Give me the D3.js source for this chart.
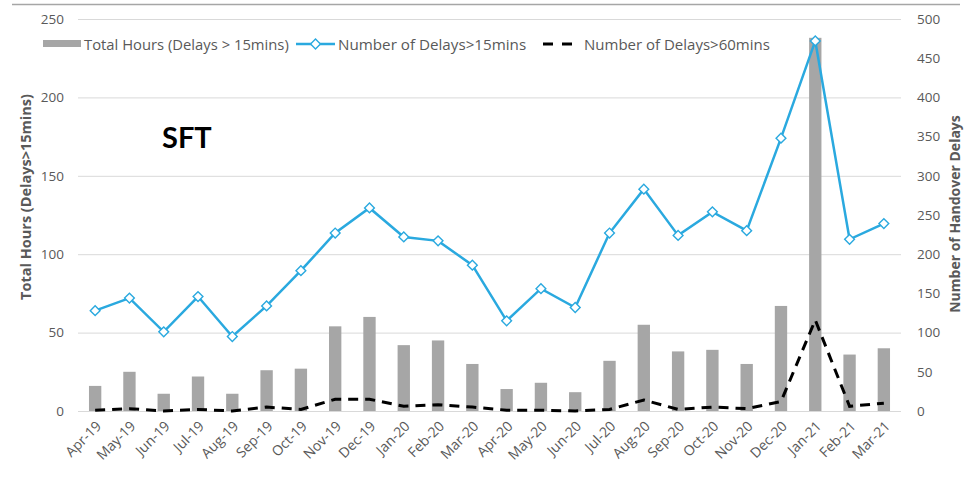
<!DOCTYPE html>
<html><head><meta charset="utf-8">
<script src="https://cdn.jsdelivr.net/npm/d3@7"></script>
<style>body{margin:0;background:#fff}svg{display:block}text{font-family:"Open Sans",sans-serif}</style>
</head><body><svg id="c" width="969" height="485"></svg>
<script>
const months = ["Apr-19","May-19","Jun-19","Jul-19","Aug-19","Sep-19","Oct-19","Nov-19","Dec-19","Jan-20","Feb-20","Mar-20","Apr-20","May-20","Jun-20","Jul-20","Aug-20","Sep-20","Oct-20","Nov-20","Dec-20","Jan-21","Feb-21","Mar-21"];
const totalHours = [16,25,11,22,11,26,27,54,60,42,45,30,14,18,12,32,55,38,39,30,67,238,36,40];
const delays15 = [128,144,101,146,95,134,179,227,259,222,217,186,115,156,132,227,283,224,254,230,348,472,219,239];
const delays60 = [1,3,0,2,0,5,2,15,15,6,8,5,1,1,0,2,14,2,5,3,12,116,6,10];
const leftTicks = [0,50,100,150,200,250];
const rightTicks = [0,50,100,150,200,250,300,350,400,450,500];

const svg = d3.select("#c");
const L = 78, R = 901, T = 19, B = 411;
const FF = "'Open Sans',sans-serif";
const x = d3.scaleBand().domain(months).range([L, R]).paddingInner(0.64).paddingOuter(0.32);
const xc = d => x(d) + x.bandwidth()/2;
const yL = d3.scaleLinear().domain([0,250]).range([B, T]);
const yR = d3.scaleLinear().domain([0,500]).range([B, T]);
const txt = "#595959";

// top border
svg.append("line").attr("x1",12).attr("x2",960).attr("y1",4.5).attr("y2",4.5).attr("stroke","#a6a6a6").attr("stroke-width",1.5);

// gridlines
svg.append("g").selectAll("line").data(leftTicks).join("line")
  .attr("x1",L).attr("x2",R).attr("y1",d=>yL(d)+0.5).attr("y2",d=>yL(d)+0.5)
  .attr("stroke","#d9d9d9").attr("stroke-width",1);

// left axis
const gl = svg.append("g").attr("transform",`translate(${L-14},0)`)
  .call(d3.axisLeft(yL).tickValues(leftTicks).tickSize(0).tickPadding(0));
gl.select(".domain").remove();
gl.selectAll("text").attr("fill",txt).style("font-size","13.5px").style("font-family",FF);

// right axis
const gr = svg.append("g").attr("transform",`translate(${R+16},0)`)
  .call(d3.axisRight(yR).tickValues(rightTicks).tickSize(0).tickPadding(0));
gr.select(".domain").remove();
gr.selectAll("text").attr("fill",txt).style("font-size","13.5px").style("font-family",FF);

// x axis
const gx = svg.append("g").attr("transform",`translate(0,${B})`)
  .call(d3.axisBottom(x).tickSize(0).tickPadding(0));
gx.select(".domain").remove();
gx.selectAll("text").attr("fill",txt).style("font-size","14px").style("font-family",FF)
  .attr("text-anchor","end").attr("dy",null).attr("y",0)
  .attr("transform","translate(7,16) rotate(-45)");

// bars
svg.append("g").selectAll("rect").data(months).join("rect")
  .attr("x",d=>x(d)).attr("width",x.bandwidth())
  .attr("y",(d,i)=>yL(totalHours[i])).attr("height",(d,i)=>B-yL(totalHours[i]))
  .attr("fill","#a6a6a6");

// dashed line
const line60 = d3.line().x((d,i)=>xc(months[i])).y(d=>yR(d));
svg.append("path").datum(delays60).attr("d",line60).attr("fill","none")
  .attr("stroke","#000").attr("stroke-width",3).attr("stroke-dasharray","10,7");

// blue line
const blue = "#2AA9DF";
const line15 = d3.line().x((d,i)=>xc(months[i])).y(d=>yR(d));
svg.append("path").datum(delays15).attr("d",line15).attr("fill","none")
  .attr("stroke",blue).attr("stroke-width",2.5);
const sym = d3.symbol().type(d3.symbolSquare).size(48);
svg.append("g").selectAll("path").data(delays15).join("path")
  .attr("d",sym).attr("transform",(d,i)=>`translate(${xc(months[i])},${yR(d)}) rotate(45)`)
  .attr("fill","#fff").attr("stroke",blue).attr("stroke-width",1.4);

// axis titles
svg.append("text").attr("transform","translate(31,197) rotate(-90)").attr("text-anchor","middle")
  .attr("fill",txt).style("font-size","14.5px").style("font-weight","bold").text("Total Hours (Delays>15mins)");
svg.append("text").attr("transform","translate(960,214) rotate(-90)").attr("text-anchor","middle")
  .attr("fill",txt).style("font-size","14px").style("font-weight","bold").text("Number of Handover Delays");

// SFT
svg.append("text").attr("x",162).attr("y",148).attr("fill","#000")
  .style("font-size","29px").style("font-weight","bold").style("font-family","Lato,sans-serif").text("SFT");

// legend
const lg = svg.append("g");
lg.append("rect").attr("x",43).attr("y",40).attr("width",38).attr("height",7).attr("fill","#a6a6a6");
lg.append("text").attr("x",84).attr("y",49.5).attr("fill",txt).style("font-size","14.8px").text("Total Hours (Delays > 15mins)");
lg.append("line").attr("x1",296).attr("x2",335).attr("y1",44).attr("y2",44).attr("stroke",blue).attr("stroke-width",2.5);
lg.append("path").attr("d",sym).attr("transform","translate(315.5,44) rotate(45)").attr("fill","#fff").attr("stroke",blue).attr("stroke-width",1.4);
lg.append("text").attr("x",338).attr("y",49.5).attr("fill",txt).style("font-size","15.2px").text("Number of Delays>15mins");
lg.append("line").attr("x1",543).attr("x2",581).attr("y1",44).attr("y2",44).attr("stroke","#000").attr("stroke-width",3).attr("stroke-dasharray","10,9");
lg.append("text").attr("x",584).attr("y",49.5).attr("fill",txt).style("font-size","15px").text("Number of Delays>60mins");
</script></body></html>
